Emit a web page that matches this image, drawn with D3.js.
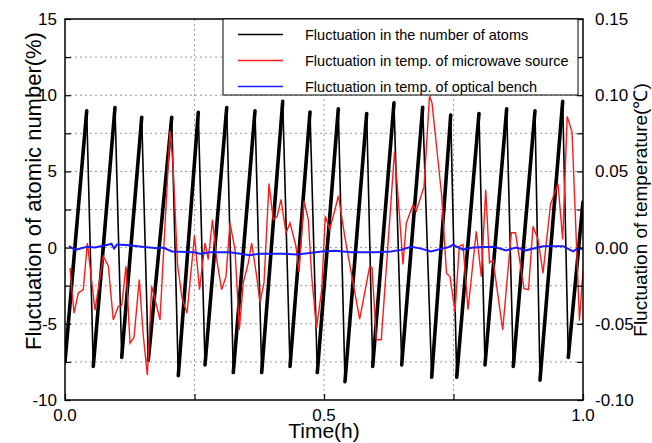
<!DOCTYPE html>
<html>
<head>
<meta charset="utf-8">
<script src="https://cdn.jsdelivr.net/npm/d3@7"></script>
<style>
  body { margin: 0; background: #fff; }
  svg { font-family: "Liberation Sans", Arial, sans-serif; }
</style>
</head>
<body>
<div id="chart"></div>
<script>
// Atom-number fluctuation (%), left axis: peaks and troughs of the sawtooth
const atomTime = [0.000, 0.0419, 0.0546, 0.0965, 0.1095, 0.1481, 0.1608, 0.2060, 0.2187, 0.2573, 0.2703,
  0.3122, 0.3249, 0.3668, 0.3797, 0.4203, 0.4344, 0.4730, 0.4871, 0.5276, 0.5405, 0.5824, 0.5940,
  0.6351, 0.6500, 0.6905, 0.7079, 0.7446, 0.7562, 0.7992, 0.8108, 0.8527, 0.8654, 0.9073, 0.9170,
  0.9608, 0.9716, 1.000];
const atomValue = [-7.5, 8.97, -7.8, 9.19, -7.2, 8.55, -7.4, 8.55, -8.4, 8.88, -7.7,
  9.19, -8.2, 8.97, -8.2, 9.6, -7.8, 8.9, -8.2, 9.1, -8.8, 8.8, -7.8,
  9.5, -7.7, 9.2, -8.5, 8.7, -8.5, 8.8, -7.7, 9.1, -7.8, 8.97, -8.7,
  9.6, -7.2, 3.0];

// Microwave source temperature fluctuation (°C), right axis
const mwTime = [0.0097, 0.0174, 0.0257, 0.0353, 0.0431, 0.0579, 0.0739, 0.0836, 0.0932, 0.1029, 0.1095,
  0.1178, 0.1255, 0.1332, 0.1434, 0.1512, 0.1589, 0.1674, 0.1737, 0.1834, 0.2027, 0.2085, 0.2172,
  0.2259, 0.2355, 0.2500, 0.2597, 0.2703, 0.2766, 0.2847, 0.2929, 0.3025, 0.3108, 0.3185, 0.3282,
  0.3365, 0.3442, 0.3539, 0.3604, 0.3701, 0.3764, 0.3842, 0.3938, 0.4021, 0.4098, 0.4170, 0.4266,
  0.4344, 0.4459, 0.4517, 0.4614, 0.4697, 0.4763, 0.4855, 0.4956, 0.5025, 0.5110, 0.5280, 0.5400,
  0.5527, 0.5689, 0.5882, 0.5927, 0.6010, 0.6106, 0.6361, 0.6429, 0.6525, 0.6589, 0.6718, 0.6782,
  0.6931, 0.7037, 0.7085, 0.7272, 0.7365, 0.7432, 0.7529, 0.7612, 0.7683, 0.7780, 0.7940, 0.8037,
  0.8122, 0.8195, 0.8263, 0.8450, 0.8616, 0.8697, 0.8861, 0.8948, 0.9035, 0.9131, 0.9228, 0.9373,
  0.9517, 0.9608, 0.9695, 0.9788, 0.9932, 1.000];
const mwTemp = [-0.0134, -0.043, -0.0298, -0.0276, 0.003, -0.041, -0.0057, -0.012, -0.0474, -0.0386, -0.038,
  -0.0123, -0.0627, -0.059, -0.021, -0.058, -0.0836, -0.0254, -0.034, -0.0474, 0.0765, 0.055, -0.011,
  -0.033, -0.043, 0.008, -0.0276, 0.003, -0.0079, 0.0184, -0.0079, -0.0276, -0.0189, 0.0162, -0.0013,
  -0.054, -0.023, -0.010, 0.003, -0.019, -0.036, -0.023, 0.042, 0.0184, 0.0206, 0.0316, 0.0097,
  0.0162, 0.0009, -0.016, 0.0305, 0.0184, -0.019, -0.053, -0.0276, 0.0206, 0.0118, 0.034, 0.0075,
  -0.0167, -0.047, -0.0123, -0.013, -0.0605, -0.0605, 0.063, 0.034, -0.011, 0.0162, 0.028, 0.024,
  0.040, 0.0995, 0.095, 0.034, -0.017, -0.019, -0.042, 0.0009, 0.002, -0.0408, 0.0107, -0.019,
  0.038, -0.010, -0.008, -0.054, 0.0097, 0.0097, -0.027, -0.0276, 0.014, 0.0053, -0.0167, 0.0283,
  0.042, 0.0053, 0.086, 0.076, -0.048, -0.015];

// Optical bench temperature fluctuation (°C), right axis
const benchTime = [0.0077, 0.0193, 0.0425, 0.0579, 0.0714, 0.0849, 0.0898, 0.0946, 0.1004, 0.1236, 0.1486,
  0.1776, 0.1892, 0.2066, 0.2490, 0.2606, 0.2799, 0.3185, 0.3571, 0.3764, 0.4208, 0.4479, 0.4961,
  0.5212, 0.5521, 0.5985, 0.6293, 0.6486, 0.6680, 0.6853, 0.7066, 0.7239, 0.7394, 0.7490, 0.7683,
  0.7876, 0.8282, 0.8514, 0.8707, 0.8900, 0.9228, 0.9614, 0.9807, 0.9903, 1.000];
const benchTemp = [0.001, -0.0015, 0.0005, 0.0, 0.001, 0.002, 0.0025, -0.0005, 0.002, 0.0015, 0.0005,
  -0.0005, 0.0, -0.0025, -0.003, -0.004, -0.003, -0.003, -0.005, -0.004, -0.004, -0.0045, -0.0025,
  -0.002, -0.003, -0.003, -0.0025, -0.0015, 0.0005, -0.0005, -0.0025, -0.001, 0.0002, 0.0018, -0.0013,
  0.0, 0.0005, -0.0018, 0.0, -0.0018, 0.0009, 0.0009, -0.0025, -0.0005, -0.001];

// Ticks and labels
const leftTicks = [-10, -5, 0, 5, 10, 15];
const leftMinorTicks = [-7.5, -2.5, 2.5, 7.5, 12.5];
const rightTicks = [-0.10, -0.05, 0.00, 0.05, 0.10, 0.15];
const rightMinorTicks = [-0.075, -0.025, 0.025, 0.075, 0.125];
const xTicks = [0, 0.5, 1];
const xMinorTicks = [0.25, 0.75];
const legendLabels = ["Fluctuation in the number of atoms",
  "Fluctuation in temp. of microwave source",
  "Fluctuation in temp. of optical bench"];
const seriesColors = ["#000000", "#ff1a1a", "#1a1aff"];

// Layout
const width = 652, height = 443;
const margin = { top: 19, right: 69, bottom: 43, left: 65 };
const innerWidth = width - margin.left - margin.right;
const innerHeight = height - margin.top - margin.bottom;

const svg = d3.select("#chart").append("svg")
  .attr("width", width)
  .attr("height", height);

const g = svg.append("g")
  .attr("transform", `translate(${margin.left},${margin.top})`);

// Scales
const x = d3.scaleLinear().domain([0, 1]).range([0, innerWidth]);
const yLeft = d3.scaleLinear().domain([-10, 15]).range([innerHeight, 0]);
const yRight = d3.scaleLinear().domain([-0.10, 0.15]).range([innerHeight, 0]);

// Dotted grid
const grid = g.append("g").attr("class", "grid")
  .attr("stroke", "#9a9a9a")
  .attr("stroke-width", 1)
  .attr("stroke-dasharray", "2,3");

grid.selectAll("line.h")
  .data(leftMinorTicks.concat([-5, 0, 5, 10]))
  .join("line")
  .attr("class", "h")
  .attr("x1", 0).attr("x2", innerWidth)
  .attr("y1", d => yLeft(d)).attr("y2", d => yLeft(d));

grid.selectAll("line.v")
  .data([0.25, 0.5, 0.75])
  .join("line")
  .attr("class", "v")
  .attr("y1", 0).attr("y2", innerHeight)
  .attr("x1", d => x(d)).attr("x2", d => x(d));

// Clip for series
svg.append("defs").append("clipPath").attr("id", "plot-clip")
  .append("rect").attr("width", innerWidth).attr("height", innerHeight);

const plot = g.append("g").attr("clip-path", "url(#plot-clip)");

// Atom series: noisy rising ramps drawn heavy, sharp drops drawn thin
const atomSegments = d3.range(atomValue.length - 1).map(i => ({
  t0: atomTime[i], v0: atomValue[i], t1: atomTime[i + 1], v1: atomValue[i + 1]
}));

plot.selectAll("line.atom")
  .data(atomSegments)
  .join("line")
  .attr("class", "atom")
  .attr("x1", d => x(d.t0)).attr("y1", d => yLeft(d.v0))
  .attr("x2", d => x(d.t1)).attr("y2", d => yLeft(d.v1))
  .attr("stroke", seriesColors[0])
  .attr("stroke-linecap", "round")
  .attr("stroke-width", d => d.v1 > d.v0 ? 3.6 : 1.6);

const tempLine = times => d3.line()
  .x((d, i) => x(times[i]))
  .y(d => yRight(d));

plot.append("path")
  .datum(mwTemp)
  .attr("fill", "none")
  .attr("stroke", seriesColors[1])
  .attr("stroke-width", 1.4)
  .attr("d", tempLine(mwTime));

plot.append("path")
  .datum(benchTemp)
  .attr("fill", "none")
  .attr("stroke", seriesColors[2])
  .attr("stroke-width", 2)
  .attr("d", tempLine(benchTime));

// Axes: d3 draws the inward ticks, labels are placed with the same scales
function tickAxis(sel) {
  sel.select(".domain").remove();
  sel.selectAll(".tick text").remove();
  sel.selectAll(".tick line").attr("stroke", "#000").attr("stroke-width", 1.2);
}

g.append("g")
  .call(d3.axisLeft(yLeft).tickValues(leftTicks.concat(leftMinorTicks)).tickSize(-6))
  .call(tickAxis);
g.append("g")
  .attr("transform", `translate(${innerWidth},0)`)
  .call(d3.axisRight(yRight).tickValues(rightTicks.concat(rightMinorTicks)).tickSize(-6))
  .call(tickAxis);
g.append("g")
  .attr("transform", `translate(0,${innerHeight})`)
  .call(d3.axisBottom(x).tickValues(xTicks.concat(xMinorTicks)).tickSize(-6))
  .call(tickAxis);

const labels = g.append("g")
  .attr("fill", "#000")
  .style("font-size", "17px");

labels.selectAll("text.left")
  .data(leftTicks)
  .join("text")
  .attr("class", "left")
  .attr("x", -8)
  .attr("y", d => yLeft(d))
  .attr("dy", "0.35em")
  .attr("text-anchor", "end")
  .text(d => String(d));

labels.selectAll("text.right")
  .data(rightTicks)
  .join("text")
  .attr("class", "right")
  .attr("x", innerWidth + 12)
  .attr("y", d => yRight(d))
  .attr("dy", "0.35em")
  .attr("text-anchor", "start")
  .text(d => d.toFixed(2));

labels.selectAll("text.bottom")
  .data(xTicks)
  .join("text")
  .attr("class", "bottom")
  .attr("x", d => x(d))
  .attr("y", innerHeight + 9)
  .attr("dy", "0.71em")
  .attr("text-anchor", "middle")
  .text(d => d.toFixed(1));

// Frame
g.append("rect")
  .attr("width", innerWidth)
  .attr("height", innerHeight)
  .attr("fill", "none")
  .attr("stroke", "#000")
  .attr("stroke-width", 1.5);

// Axis titles
svg.append("text")
  .attr("transform", `translate(33,191) rotate(-90)`)
  .attr("text-anchor", "middle")
  .attr("dominant-baseline", "central")
  .style("font-size", "22px")
  .text("Fluctuation of atomic number(%)");

svg.append("text")
  .attr("transform", `translate(640,210) rotate(-90)`)
  .attr("text-anchor", "middle")
  .attr("dominant-baseline", "central")
  .style("font-size", "19px")
  .text("Fluctuation of temperature(℃)");

svg.append("text")
  .attr("x", margin.left + innerWidth / 2)
  .attr("y", 438)
  .attr("text-anchor", "middle")
  .style("font-size", "21px")
  .text("Time(h)");

// Legend
const legend = svg.append("g").attr("transform", "translate(223,19)");
legend.append("rect")
  .attr("width", 355)
  .attr("height", 76)
  .attr("fill", "#fff")
  .attr("stroke", "#000")
  .attr("stroke-width", 1);

const rows = legend.selectAll("g.row")
  .data(legendLabels)
  .join("g")
  .attr("class", "row")
  .attr("transform", (d, i) => `translate(0,${15.5 + i * 26})`);

rows.append("line")
  .attr("x1", 15).attr("x2", 60)
  .attr("stroke", (d, i) => seriesColors[i])
  .attr("stroke-width", 1.5);

rows.append("text")
  .attr("x", 82)
  .attr("dy", "0.35em")
  .style("font-size", "14.5px")
  .text(d => d);
</script>
</body>
</html>
